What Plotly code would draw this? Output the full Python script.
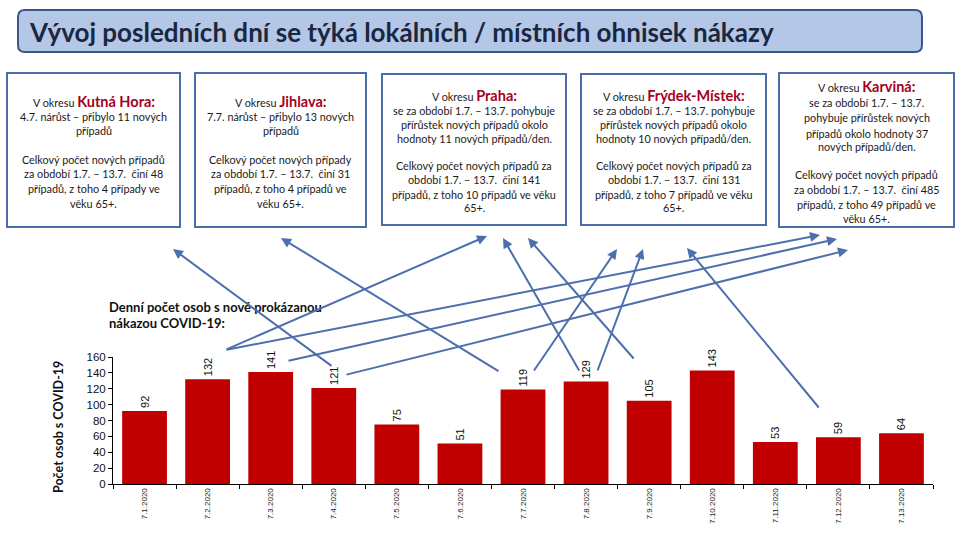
import plotly.graph_objects as go

# ---------------- data ----------------
dates = ["7.1.2020", "7.2.2020", "7.3.2020", "7.4.2020", "7.5.2020", "7.6.2020", "7.7.2020",
         "7.8.2020", "7.9.2020", "7.10.2020", "7.11.2020", "7.12.2020", "7.13.2020"]
daily_cases = [92, 132, 141, 121, 75, 51, 119, 129, 105, 143, 53, 59, 64]

title_text = "Vývoj posledních dní se týká lokálních / místních ohnisek nákazy"
chart_caption = ["Denní počet osob s nově prokázanou", "nákazou COVID-19:"]
y_title = "Počet osob s COVID-19"

districts = ["Kutná Hora:", "Jihlava:", "Praha:", "Frýdek-Místek:", "Karviná:"]
district_lines = [
    ["4.7. nárůst – přibylo 11 nových", "případů", "",
     "Celkový počet nových případů", "za období 1.7. – 13.7.  činí 48",
     "případů, z toho 4 případy ve", "věku 65+."],
    ["7.7. nárůst – přibylo 13 nových", "případů", "",
     "Celkový počet nových případy", "za období 1.7. – 13.7.  činí 31",
     "případů, z toho 4 případů ve", "věku 65+."],
    ["se za období 1.7. – 13.7. pohybuje", "přírůstek nových případů okolo",
     "hodnoty 11 nových případů/den.", "",
     "Celkový počet nových případů za", "období 1.7. – 13.7.  činí 141",
     "případů, z toho 10 případů ve věku", "65+."],
    ["se za období 1.7. – 13.7. pohybuje", "přírůstek nových případů okolo",
     "hodnoty 10 nových případů/den.", "",
     "Celkový počet nových případů za", "období 1.7. – 13.7.  činí 131",
     "případů, z toho 7 případů ve věku", "65+."],
    ["se za období 1.7. – 13.7.", "pohybuje přírůstek nových",
     "případů okolo hodnoty 37", "nových případů/den.", "",
     "Celkový počet nových případů", "za období 1.7. – 13.7.  činí 485",
     "případů, z toho 49 případů ve", "věku 65+."],
]

# ---------------- layout geometry (pixels) ----------------
W, H = 960, 540
L, R, T, B = 113, 933, 357, 484


def px(x):
    return (x - L) / (R - L)


def py(y):
    return (B - y) / (B - T)


fig = go.Figure()
fig.add_trace(go.Bar(
    x=dates, y=daily_cases,
    marker=dict(color="#c00000", line=dict(width=0)),
    text=[str(v) for v in daily_cases], textposition="outside", textangle=-90,
    textfont=dict(family="Liberation Sans", size=11, color="#111111"),
    constraintext="none", cliponaxis=False, width=0.71,
))

shapes = []
annotations = []


def rounded_rect(x0, y0, x1, y1, r):
    def P(x, y):
        return f"{px(x):.5f},{py(y):.5f}"
    return (f"M {P(x0 + r, y0)} L {P(x1 - r, y0)} Q {P(x1, y0)} {P(x1, y0 + r)} "
            f"L {P(x1, y1 - r)} Q {P(x1, y1)} {P(x1 - r, y1)} "
            f"L {P(x0 + r, y1)} Q {P(x0, y1)} {P(x0, y1 - r)} "
            f"L {P(x0, y0 + r)} Q {P(x0, y0)} {P(x0 + r, y0)} Z")


# title banner
shapes.append(dict(type="path", xref="paper", yref="paper",
                   path=rounded_rect(18, 10, 922, 52, 7),
                   fillcolor="#b4c7e7", line=dict(color="#3d5686", width=2), layer="below"))
annotations.append(dict(xref="paper", yref="paper", x=px(27), y=py(32), xanchor="left",
                        yanchor="middle", showarrow=False, text=f"<b>{title_text}</b>",
                        font=dict(family="Lato", size=26, color="#1b2740")))

# district boxes
boxes = [(7, 180, 73, 227), (195, 366, 73, 227), (382, 566, 74, 225),
         (581, 766, 74, 225), (779, 954, 73, 227)]
line_ys = [
    [101, 117, 130, None, 159, 173, 188, 203],
    [101, 117, 130, None, 159, 173, 188, 203],
    [95, 110, 124, 138, None, 165, 180, 194, 208],
    [95, 110, 124, 138, None, 165, 180, 194, 208],
    [86, 102, 118, 133, 147, None, 175, 189, 204, 218],
]
for (bx0, bx1, by0, by1), name, lines, ys in zip(boxes, districts, district_lines, line_ys):
    shapes.append(dict(type="rect", xref="paper", yref="paper",
                       x0=px(bx0), x1=px(bx1), y0=py(by1), y1=py(by0),
                       fillcolor="white", line=dict(color="#4a6fa8", width=2), layer="below"))
    cx = (bx0 + bx1) / 2
    texts = ["V okresu <span style='font-size:14.5px;color:#a50021'><b>" + name + "</b></span>"] + lines
    for t, yy in zip(texts, ys):
        if yy is None or t == "":
            continue
        annotations.append(dict(xref="paper", yref="paper", x=px(cx), y=py(yy),
                                xanchor="center", yanchor="middle", showarrow=False, text=t,
                                font=dict(family="Lato", size=10.8, color="#1a1a1a")))

# caption and y title
for t, yy in zip(chart_caption, [307, 323]):
    annotations.append(dict(xref="paper", yref="paper", x=px(107), y=py(yy), xanchor="left",
                            yanchor="middle", showarrow=False, text=f"<b>{t}</b>",
                            font=dict(family="Lato", size=13, color="#111111")))
annotations.append(dict(xref="paper", yref="paper", x=px(58), y=py(427), xanchor="center",
                        yanchor="middle", showarrow=False, text=f"<b>{y_title}</b>", textangle=-90,
                        font=dict(family="Lato", size=12.5, color="#111111")))

# connector arrows (tail pixel -> head pixel)
arrows = [
    ((225, 350), (487, 236)),
    ((225, 350), (820, 235)),
    ((287, 361), (837, 239)),
    ((345, 375), (848, 250)),
    ((333, 367), (173, 249)),
    ((500, 372), (281, 238)),
    ((533, 372), (617, 249)),
    ((580, 372), (503, 238)),
    ((597, 372), (643, 249)),
    ((635, 360), (528, 238)),
    ((820, 409), (687, 248)),
]
for (tx, ty), (hx, hy) in arrows:
    annotations.append(dict(xref="paper", yref="paper", axref="pixel", ayref="pixel",
                            x=px(hx), y=py(hy), ax=tx - hx, ay=ty - hy, text="",
                            showarrow=True, arrowhead=2, arrowsize=1.0, arrowwidth=2,
                            arrowcolor="#4d6fae"))

fig.update_layout(
    width=W, height=H,
    margin=dict(l=L, r=W - R, t=T, b=H - B, pad=0),
    paper_bgcolor="white", plot_bgcolor="white",
    showlegend=False, bargap=0.29,
    shapes=shapes, annotations=annotations,
    xaxis=dict(type="category", tickangle=-90, tickson="boundaries", ticks="outside",
               ticklen=4, tickcolor="#000000", showline=True, linecolor="#000000", linewidth=1,
               showgrid=False, automargin=False,
               tickfont=dict(family="Liberation Sans", size=8, color="#222222")),
    yaxis=dict(range=[0, 160], dtick=20, ticks="outside", ticklen=4, tickcolor="#000000",
               showline=True, linecolor="#000000", linewidth=1, showgrid=False, zeroline=False,
               automargin=False,
               tickfont=dict(family="Liberation Sans", size=11.5, color="#111111")),
)

fig.write_html("out.html", config={"displayModeBar": False},
               post_script="document.body.style.margin='0px';")
